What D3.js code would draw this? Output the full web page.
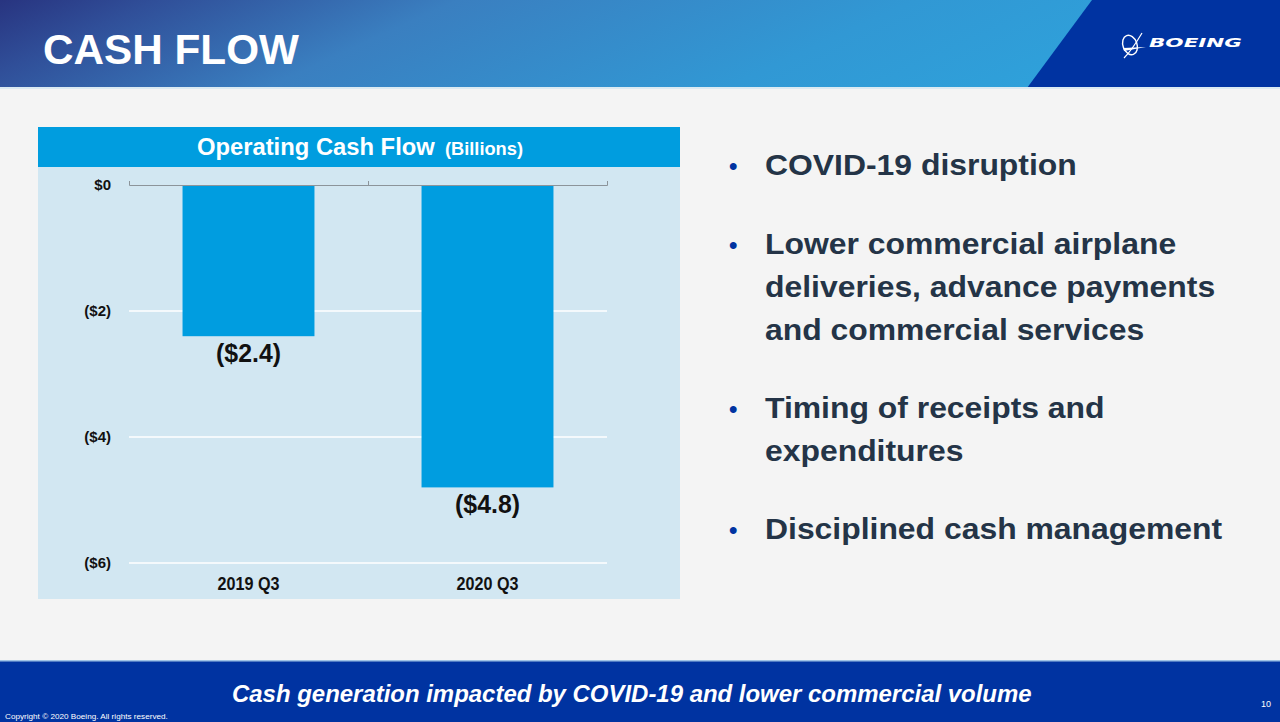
<!DOCTYPE html>
<html><head><meta charset="utf-8">
<script src="https://cdn.jsdelivr.net/npm/d3@7"></script>
<style>
html,body{margin:0;padding:0;background:#f4f4f4;}
svg{display:block;font-family:"Liberation Sans",Arial,sans-serif;}
</style></head>
<body>
<svg id="c" width="1280" height="722"></svg>
<script>
// ---- data ----
const categories = ["2019 Q3", "2020 Q3"];
const cashFlow = [-2.4, -4.8];
const yTicks = [0, -2, -4, -6];
const bullets = [
  ["COVID-19 disruption"],
  ["Lower commercial airplane", "deliveries, advance payments", "and commercial services"],
  ["Timing of receipts and", "expenditures"],
  ["Disciplined cash management"]
];
const pageTitle = "CASH FLOW";
const chartTitle = "Operating Cash Flow";
const chartUnit = "(Billions)";
const footerText = "Cash generation impacted by COVID-19 and lower commercial volume";
const copyright = "Copyright \u00A9 2020 Boeing. All rights reserved.";
const pageNum = "10";

const svg = d3.select("#c");
const defs = svg.append("defs");
const g = defs.append("linearGradient").attr("id","hdr").attr("x1","0").attr("y1","0").attr("x2","1").attr("y2","0.15");
g.append("stop").attr("offset","0").attr("stop-color","#283480");
g.append("stop").attr("offset","0.12").attr("stop-color","#304f99");
g.append("stop").attr("offset","0.35").attr("stop-color","#3a7fc0");
g.append("stop").attr("offset","0.7").attr("stop-color","#3198d4");
g.append("stop").attr("offset","1").attr("stop-color","#2ea3dc");

// background
svg.append("rect").attr("width",1280).attr("height",722).attr("fill","#f4f4f4");
// header
svg.append("rect").attr("width",1280).attr("height",88).attr("fill","url(#hdr)");
svg.append("path").attr("d","M1092,0 L1280,0 L1280,88 L1027,88 Z").attr("fill","#0033a1");
svg.append("rect").attr("x",0).attr("y",87).attr("width",1280).attr("height",2).attr("fill","#dbeaf2");

// text helper: place text at (x,y) and stretch horizontally to a given width
function fitX(parent, x, y, w, anchor){
  const gg = parent.append("g").attr("transform",`translate(${x},${y})`);
  const t = gg.append("text").attr("x",0).attr("y",0).attr("text-anchor",anchor||"start");
  t.fit = function(){
    const L = t.node().getComputedTextLength();
    if (L>0) t.attr("transform",`scale(${w/L},1)`);
    return t;
  };
  return t;
}

fitX(svg, 43, 64, 256).attr("fill","#fff").attr("font-size",43).attr("font-weight","bold").text(pageTitle).fit();

// Boeing logo
const logo = svg.append("g").attr("fill","none").attr("stroke","#fff");
logo.append("ellipse").attr("cx",1130).attr("cy",45).attr("rx",7).attr("ry",10).attr("stroke-width",1.4).attr("transform","rotate(-20 1130 45)");
logo.append("path").attr("d","M1124,58 Q1132,50 1142,33").attr("stroke-width",1.2);
logo.append("path").attr("d","M1123,48 L1146,47 L1124,51 Z").attr("fill","#fff").attr("stroke","none");
fitX(svg, 1149, 47, 93).attr("fill","#fff").attr("font-size",13)
  .attr("font-weight","900").attr("font-style","italic").attr("font-family","'DejaVu Sans',sans-serif").text("BOEING").fit();

// chart panel
svg.append("rect").attr("x",38).attr("y",167).attr("width",642).attr("height",432).attr("fill","#d2e7f2");
svg.append("rect").attr("x",38).attr("y",127).attr("width",642).attr("height",40).attr("fill","#009ddf");
fitX(svg, 197, 155, 238).attr("fill","#fff").attr("font-weight","bold").attr("font-size",24).text(chartTitle).fit();
fitX(svg, 445, 155, 78).attr("fill","#fff").attr("font-weight","bold").attr("font-size",18).text(chartUnit).fit();

const y = d3.scaleLinear().domain([0,-6]).range([185,563]);
const x = d3.scaleBand().domain(categories).range([129,607]).paddingInner(0.448).paddingOuter(0.224);

// gridlines
svg.append("g").selectAll("line").data(yTicks.filter(d=>d!==0)).join("line")
  .attr("x1",129).attr("x2",607).attr("y1",d=>y(d)).attr("y2",d=>y(d))
  .attr("stroke","#ffffff").attr("stroke-width",1.5);

// bars
svg.append("g").selectAll("rect").data(cashFlow).join("rect")
  .attr("x",(d,i)=>x(categories[i])).attr("width",x.bandwidth())
  .attr("y",y(0)).attr("height",d=>y(d)-y(0)).attr("fill","#009de0");

// zero axis with ticks
const ax = svg.append("g").attr("transform",`translate(0,${y(0)})`)
  .call(d3.axisTop(d3.scaleLinear().domain([0,2]).range([129,607])).tickValues([0,1,2]).tickSize(4).tickFormat(""));
ax.selectAll("path,line").attr("stroke","#8c949a").attr("stroke-width",1);

// y labels
const yl = svg.append("g").attr("transform","translate(129,0)")
  .call(d3.axisLeft(y).tickValues(yTicks).tickSize(0).tickPadding(18)
    .tickFormat(d=> d===0 ? "$0" : `($${Math.abs(d)})`));
yl.select(".domain").remove();
yl.selectAll("text").attr("font-size",15).attr("font-weight","bold").attr("fill","#111")
  .attr("font-family","'Liberation Sans',Arial,sans-serif").attr("dy","0.3em");

// x labels
categories.forEach(c=>{
  fitX(svg, x(c)+x.bandwidth()/2, 590, 62, "middle")
    .attr("font-size",17.5).attr("font-weight","bold").attr("fill","#111").text(c).fit();
});

// value labels
cashFlow.forEach((v,i)=>{
  fitX(svg, x(categories[i])+x.bandwidth()/2, y(v)+26, 65, "middle")
    .attr("font-size",26).attr("font-weight","bold").attr("fill","#111")
    .text(`($${Math.abs(v).toFixed(1)})`).fit();
});

// bullets
const bStarts = [175, 254, 418, 539];
const lh = 43;
bullets.forEach((lines,bi)=>{
  svg.append("text").attr("x",729).attr("y",bStarts[bi]-1).attr("font-size",24).attr("font-weight","bold")
    .attr("fill","#0033a1").text("\u2022");
  lines.forEach((ln,li)=>{
    const t = fitX(svg, 765, bStarts[bi]+li*lh, 0)
      .attr("font-size",29).attr("font-weight","bold").attr("fill","#243447").text(ln);
    t.attr("transform","scale(1.1,1)");
  });
});

// footer
svg.append("rect").attr("x",0).attr("y",661).attr("width",1280).attr("height",61).attr("fill","#0033a1");
svg.append("rect").attr("x",0).attr("y",660).attr("width",1280).attr("height",1.5).attr("fill","#9fc3e6");
fitX(svg, 232, 702, 800).attr("fill","#fff").attr("font-size",23)
  .attr("font-weight","bold").attr("font-style","italic").text(footerText).fit();
fitX(svg, 5, 719, 163).attr("fill","#fff").attr("font-size",7).text(copyright).fit();
svg.append("text").attr("x",1271).attr("y",707).attr("text-anchor","end").attr("fill","#fff").attr("font-size",9).text(pageNum);
</script>
</body></html>
